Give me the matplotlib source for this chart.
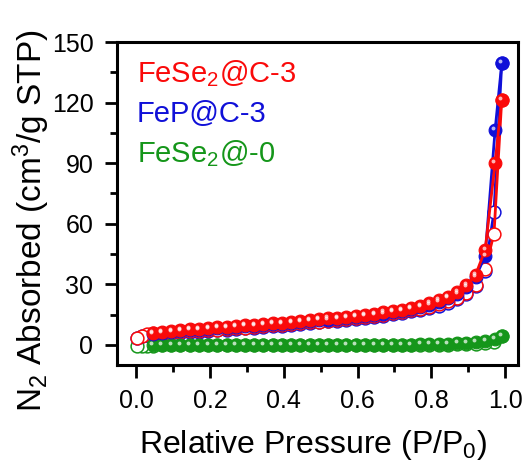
import matplotlib
matplotlib.use("Agg")
import matplotlib.pyplot as plt
import matplotlib.transforms as mtransforms

plt.rcParams['font.family'] = ['Liberation Sans', 'DejaVu Sans']
plt.rcParams['mathtext.fontset'] = 'custom'
plt.rcParams['mathtext.rm'] = 'Liberation Sans'
plt.rcParams['mathtext.it'] = 'Liberation Sans'
plt.rcParams['mathtext.default'] = 'regular'

# ---- data ----
labels = ["FeSe$_2$@C-3", "FeP@C-3", "FeSe$_2$@-0"]
colors = ["#fa0a0a", "#1010d8", "#15961a"]

p_ads = [0.045, 0.07, 0.095, 0.12, 0.145, 0.17, 0.195, 0.22, 0.245, 0.27,
         0.295, 0.32, 0.345, 0.37, 0.395, 0.42, 0.445, 0.47, 0.495, 0.52,
         0.545, 0.57, 0.595, 0.62, 0.645, 0.67, 0.695, 0.72, 0.745, 0.77,
         0.795, 0.82, 0.845, 0.87, 0.895, 0.92, 0.946, 0.973, 0.991]
p_des = [0.991, 0.970, 0.946, 0.921, 0.895, 0.87, 0.845, 0.82, 0.795, 0.77,
         0.745, 0.72, 0.695, 0.67, 0.645, 0.62, 0.595, 0.57, 0.545, 0.52,
         0.495, 0.47, 0.445, 0.42, 0.395, 0.37, 0.345, 0.32, 0.295, 0.27,
         0.245, 0.22, 0.195, 0.17, 0.145, 0.12, 0.095, 0.07, 0.045, 0.03,
         0.015, 0.003]

red_ads = [5.9, 6.4, 6.8, 7.2, 7.6, 8.0, 8.3, 8.7, 9.0, 9.3,
           9.7, 10.0, 10.3, 10.7, 11.0, 11.4, 11.8, 12.2, 12.7, 13.1,
           13.5, 14.0, 14.5, 15.0, 15.5, 16.1, 16.7, 17.4, 18.1, 19.2,
           20.5, 22.0, 23.8, 26.0, 29.5, 34.6, 47.0, 90.0, 121.5]
red_des = [121.5, 55.0, 37.6, 29.7, 25.8, 23.3, 21.5, 20.0, 18.9, 17.9,
           17.0, 16.3, 15.6, 15.0, 14.4, 13.9, 13.4, 12.9, 12.4, 12.0,
           11.5, 11.1, 10.7, 10.3, 9.9, 9.6, 9.2, 8.9, 8.5, 8.2,
           7.9, 7.5, 7.2, 6.9, 6.6, 6.3, 6.0, 5.8, 5.6, 5.4,
           4.6, 3.6]

blue_ads = [5.5, 6.0, 6.4, 6.8, 7.2, 7.5, 7.9, 8.2, 8.5, 8.8,
            9.2, 9.5, 9.8, 10.2, 10.5, 10.9, 11.3, 11.7, 12.1, 12.5,
            12.9, 13.4, 13.9, 14.4, 14.9, 15.5, 16.1, 16.8, 17.5, 18.5,
            19.8, 21.3, 23.1, 25.3, 28.6, 33.5, 44.0, 106.4, 139.4]
blue_des = [139.4, 66.0, 36.5, 28.9, 25.0, 22.6, 20.9, 19.4, 18.3, 17.4,
            16.5, 15.8, 15.1, 14.5, 13.9, 13.4, 12.9, 12.4, 12.0, 11.6,
            11.1, 10.7, 10.3, 9.9, 9.5, 9.2, 8.8, 8.5, 8.1, 7.8,
            7.5, 7.1, 6.8, 6.5, 6.2, 5.9, 5.6, 5.4, 5.2, 5.0,
            4.2, 3.3]

green_ads = [0.0, 0.0, 0.0, 0.0, 0.0, 0.0, 0.0, 0.0, 0.0, 0.0,
             0.0, 0.0, 0.0, 0.0, 0.0, 0.0, 0.0, 0.0, 0.0, 0.0,
             0.0, 0.0, 0.0, 0.0, 0.0, 0.0, 0.1, 0.1, 0.1, 0.2,
             0.2, 0.3, 0.5, 0.7, 1.0, 1.4, 2.0, 2.8, 4.3]
green_des = [4.3, 1.5, 0.8, 0.5, 0.3, 0.2, 0.1, 0.0, 0.0, -0.1,
             -0.1, -0.1, -0.1, -0.1, -0.1, -0.1, -0.1, -0.1, -0.1, -0.1,
             -0.2, -0.2, -0.2, -0.2, -0.2, -0.2, -0.2, -0.2, -0.2, -0.2,
             -0.3, -0.3, -0.3, -0.3, -0.3, -0.3, -0.3, -0.3, -0.4, -0.5,
             -0.7, -0.8]

series = [(green_ads, green_des, colors[2]),
          (blue_ads, blue_des, colors[1]),
          (red_ads, red_des, colors[0])]

x_ticks = [0.0, 0.2, 0.4, 0.6, 0.8, 1.0]
x_tick_labels = ["0.0", "0.2", "0.4", "0.6", "0.8", "1.0"]
y_ticks = [0, 30, 60, 90, 120, 150]

# ---- figure ----
fig = plt.figure(figsize=(5.28, 4.62), dpi=100)
ax = fig.add_axes([0.2216, 0.21, 0.7594, 0.699])

hl = mtransforms.offset_copy(ax.transData, fig=fig, x=-1.6, y=2.0, units='dots')

ms = 9.2
for ads, des, c in series:
    ax.plot(p_des, des, '-', color=c, lw=2.0, marker='o', ms=ms,
            mfc='white', mec=c, mew=1.1, zorder=2)
    ax.plot(p_ads, ads, '-', color=c, lw=2.0, marker='o', ms=ms,
            mfc=c, mec=c, mew=0.8, zorder=3)
    ax.plot(p_ads, ads, 'o', ms=2.8, color='white', alpha=0.7, mew=0,
            transform=hl, zorder=4)

ax.set_xlim(-0.052, 1.035)
ax.set_ylim(-10, 150)
ax.set_xticks(x_ticks)
ax.set_xticklabels(x_tick_labels)
ax.set_xticks([0.1, 0.3, 0.5, 0.7, 0.9], minor=True)
ax.set_yticks(y_ticks)
ax.set_yticks([15, 45, 75, 105, 135], minor=True)

ax.tick_params(which='major', direction='out', length=9, width=2,
               labelsize=18)
ax.tick_params(axis='x', which='major', pad=8)
ax.tick_params(axis='y', which='major', pad=8)
ax.tick_params(which='minor', direction='out', length=5, width=2)
ax.tick_params(top=False, right=False, which='both')
for s in ax.spines.values():
    s.set_linewidth(2.2)

ax.set_xlabel("Relative Pressure (P/P$_0$)", fontsize=23)
ax.set_ylabel("N$_2$ Absorbed (cm$^3$/g STP)", fontsize=24)
ax.xaxis.set_label_coords(0.49, -0.195)
ax.yaxis.set_label_coords(-0.163, 0.446)

ys = [0.877, 0.753, 0.629]
for lab, c, yy in zip(labels, colors, ys):
    ax.text(0.05, yy, lab, transform=ax.transAxes, color=c, fontsize=21,
            ha='left', va='baseline')

fig.savefig("out.png", dpi=100)
